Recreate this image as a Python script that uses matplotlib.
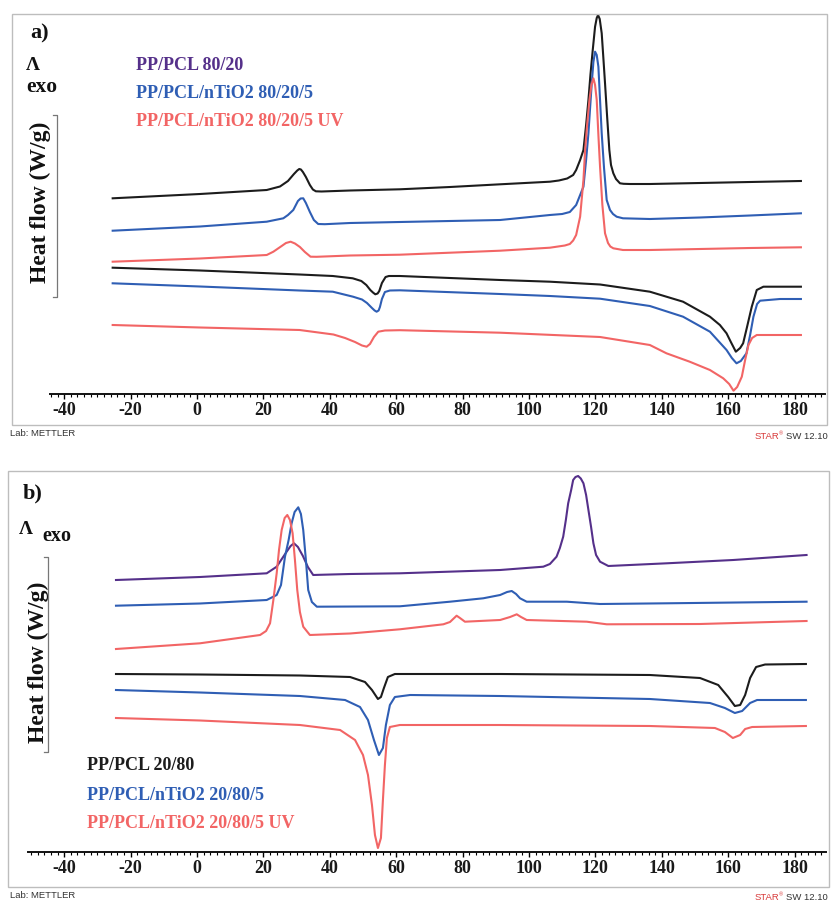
import matplotlib
matplotlib.use("Agg")
import matplotlib.pyplot as plt
from matplotlib.patches import Rectangle
from matplotlib.lines import Line2D
from matplotlib.ticker import MultipleLocator

# ---------------- data (temperature in degC, heat flow in arbitrary units above the axis) -------------
# Panel a) PP/PCL 80/20 series
a_cool_pp_T = [-25.4, 0.9, 21.0, 25.0, 27.4, 29.2, 30.2, 30.8, 31.3, 31.9, 32.8, 34.0, 34.9, 35.8, 37.5, 46.1,
               61.1, 76.2, 91.3, 106.3, 109.0, 111.5, 113.3, 114.2, 115.4, 116.4, 117.2, 117.9, 118.5, 119.2,
               119.9, 120.4, 120.8, 121.3, 121.9, 122.4, 122.9, 123.5, 124.2, 124.7, 125.4, 126.2, 127.4, 128.5,
               130.4, 136.4, 151.5, 166.6, 181.9]
a_cool_pp_HF = [195.7, 200, 204, 207.5, 213, 220, 223.5, 225, 224.5, 222, 217, 209, 204.5, 202.7, 202.5, 203.5,
                204.7, 207, 209.7, 212.3, 213.5, 215.5, 219, 224, 234, 244, 269, 294, 319, 344,
                367.3, 376, 379, 375, 360.7, 336, 310.7, 279, 244, 229, 220.7, 215, 210.7, 210.2,
                210, 210, 211, 212, 213]

a_cool_ti_T = [-25.4, 0.9, 21.0, 26.0, 27.4, 29.0, 30.4, 31.2, 32.0, 32.8, 34.0, 35.2, 36.5, 38.5, 46.1, 61.1,
               76.2, 91.3, 106.3, 110.0, 112.3, 114.2, 115.4, 116.4, 117.2, 117.9, 118.4, 118.9, 119.4, 119.9,
               120.4, 120.9, 121.4, 121.9, 122.6, 123.4, 124.4, 125.3, 126.4, 128.3, 136.4, 151.5, 166.6, 181.9]
a_cool_ti_HF = [163.3, 167.5, 172.3, 175.7, 179, 184, 193, 195.5, 195.7, 191, 182, 174, 170, 169.8, 171, 172,
                173, 174, 179, 180, 182, 189, 199, 207.3, 234, 260.7, 286, 310.7, 332, 342.3,
                339, 327.3, 294, 260.7, 226, 194, 184, 180, 177.3, 175.7, 175, 176.5, 178.5, 180.7]

a_cool_uv_T = [-25.4, 0.9, 21.0, 23.0, 25.5, 26.8, 28.2, 29.5, 31.0, 32.5, 34.2, 36.0, 46.1, 61.1, 76.2, 91.3,
               106.3, 110.8, 112.3, 113.3, 114.2, 115.4, 116.4, 116.9, 117.5, 118.2, 118.8, 119.4, 119.9, 120.4,
               120.9, 121.4, 122.1, 122.9, 123.8, 124.5, 125.4, 128.3, 136.4, 151.5, 166.6, 181.9]
a_cool_uv_HF = [132.3, 135.5, 139, 142.3, 148, 151, 152.3, 150.5, 147, 142, 137.3, 137.2, 138.5, 139.3, 141.3, 143.3,
                146.3, 148.5, 150, 153.5, 159, 177.3, 214, 244, 269, 294, 309, 315.7, 309, 294,
                259, 227.3, 189, 160.7, 151, 147.5, 145.7, 144, 144, 145, 146, 146.7]

a_heat_pp_T = [-25.4, 0.9, 30.9, 40.9, 46.9, 49.5, 51.0, 52.2, 53.0, 53.7, 54.4, 54.9, 55.7, 56.8, 57.8, 61.1,
               91.3, 106.3, 121.4, 136.4, 146.4, 154.5, 157.5, 159.5, 160.8, 162.3, 163.6, 164.5, 165.6, 167.1,
               168.6, 170.6, 175.6, 181.9]
a_heat_pp_HF = [126.3, 123.5, 119.5, 118, 115.7, 113, 109, 104, 101.5, 99.7, 100.5, 103, 111, 117, 118, 118,
                114, 112.3, 109.5, 102.3, 92.3, 77.3, 69, 60.7, 52, 42.3, 46, 50.7, 66, 87.3,
                104, 107.3, 107.3, 107.3]

a_heat_ti_T = [-25.4, 0.9, 30.9, 40.9, 47.0, 49.7, 51.2, 52.7, 53.5, 54.1, 54.7, 55.1, 55.7, 56.6, 58.1, 61.1,
               91.3, 106.3, 121.4, 136.4, 146.4, 154.5, 159.5, 161.1, 162.5, 163.8, 165.5, 166.6, 167.6, 168.7,
               169.6, 175.6, 181.9]
a_heat_ti_HF = [110.7, 107.5, 103.5, 102.3, 97.3, 94.5, 91, 86, 83.5, 82.3, 83.5, 87, 95, 102, 103.5, 103.7,
                100, 98, 95.3, 88, 77.3, 62.3, 44, 36, 30.7, 33, 40.7, 59, 77.3, 90,
                93.3, 95, 95]

a_heat_uv_T = [-25.4, 0.9, 30.9, 41.1, 44.6, 47.6, 49.7, 51.1, 52.1, 53.3, 54.6, 56.6, 61.1, 91.3, 121.4, 136.4,
               141.4, 148.4, 154.5, 158.5, 160.3, 161.6, 162.7, 164.1, 165.1, 166.1, 167.2, 168.6, 175.6, 181.9]
a_heat_uv_HF = [69, 66.5, 64, 59.5, 56, 52, 48.5, 47.3, 50, 57, 62.3, 63.5, 63.8, 61.3, 57, 49,
                40.7, 32.3, 24, 15.7, 10, 3.3, 7, 17.3, 34, 49, 56, 59, 59, 59]

# Panel b) PP/PCL 20/80 series
b_cool_pp_T = [-24.4, 0.9, 21.0, 24.0, 27.0, 28.2, 29.2, 30.4, 31.9, 33.4, 35.0, 37.0, 46.1, 61.1, 91.3, 104.3,
               106.3, 108.3, 109.3, 110.3, 111.1, 111.8, 112.7, 113.3, 114.0, 114.8, 115.6, 116.4, 117.2, 117.9,
               118.7, 119.4, 120.2, 121.4, 123.9, 141.5, 161.5, 183.6]
b_cool_pp_HF = [272, 275, 278.7, 285.3, 300.3, 306, 308.7, 305, 296, 285, 277, 277.2, 278, 278.7, 282, 285.3,
                288, 295.3, 304, 315.3, 332, 348.7, 362, 372, 375, 376, 373.5, 368.7, 357, 342,
                325, 308.7, 297, 290.3, 286, 288.7, 292, 297]

b_cool_ti_T = [-24.4, 0.9, 21.0, 24.0, 25.3, 26.5, 27.6, 28.5, 29.4, 30.5, 31.3, 32.0, 32.8, 33.5, 34.6, 36.1,
               61.1, 76.2, 86.2, 91.3, 93.4, 94.8, 96.1, 97.3, 99.3, 111.4, 121.4, 141.5, 183.6]
b_cool_ti_HF = [246.3, 248.5, 252, 257, 267, 295.3, 312, 328.7, 340, 344.7, 338, 322, 292, 262, 250, 245.3,
                245.7, 250.3, 253.7, 257, 260, 261, 258, 253.7, 250.3, 250.3, 248, 248.7, 250.3]

b_cool_uv_T = [-24.4, 0.9, 19.0, 20.8, 22.0, 23.0, 24.0, 24.7, 25.5, 26.4, 27.2, 28.0, 28.8, 29.5, 30.2, 31.0,
               32.0, 34.0, 46.1, 61.1, 74.2, 76.2, 78.2, 79.2, 80.7, 91.3, 94.3, 96.3, 97.6, 99.3,
               117.4, 123.4, 151.5, 183.6]
b_cool_uv_HF = [203, 208.7, 217, 221, 228.7, 252, 278.7, 302, 322, 334, 337, 332, 318.7, 292, 262, 240,
                225.3, 217, 218.5, 222.7, 227.7, 230, 236.3, 234, 230.3, 232, 235, 237.7, 235, 232,
                230.3, 227.7, 228, 231]

b_heat_pp_T = [-24.4, 0.9, 31.0, 46.1, 50.6, 52.7, 54.5, 55.4, 56.3, 57.5, 59.6, 91.3, 136.4, 151.5, 157.0, 160.0,
               162.0, 163.6, 165.1, 166.6, 168.4, 171.1, 183.4]
b_heat_pp_HF = [178, 177.5, 176.5, 175, 170, 162, 153, 155, 164, 175, 178, 178, 177, 174, 167, 155,
                146, 147, 157, 174, 185, 187.5, 188]

b_heat_ti_T = [-24.4, 0.9, 31.0, 44.6, 49.1, 51.5, 53.3, 54.8, 56.0, 56.9, 58.1, 59.6, 64.2, 91.3, 136.4, 154.5,
               159.0, 162.0, 164.2, 166.6, 168.7, 183.4]
b_heat_ti_HF = [162, 159.5, 156, 152, 145, 132, 112, 97, 104, 127, 147, 155, 157, 156, 153, 149,
                144, 139, 141, 149, 152, 152]

b_heat_uv_T = [-24.4, 0.9, 31.0, 43.1, 47.6, 50.0, 51.5, 52.7, 53.6, 54.5, 55.4, 56.0, 56.6, 57.2, 58.1, 61.1,
               91.3, 136.4, 156.0, 159.0, 161.4, 163.6, 165.1, 167.2, 183.4]
b_heat_uv_HF = [134, 131.5, 127, 122, 112, 97, 77, 47, 17, 4, 14, 52, 87, 114, 125, 127,
                127, 126, 124, 120, 114, 117, 123, 125, 126]

legend_a = ["PP/PCL 80/20", "PP/PCL/nTiO2 80/20/5", "PP/PCL/nTiO2 80/20/5 UV"]
legend_b = ["PP/PCL 20/80", "PP/PCL/nTiO2 20/80/5", "PP/PCL/nTiO2 20/80/5 UV"]
tick_values = [-40, -20, 0, 20, 40, 60, 80, 100, 120, 140, 160, 180]
tick_labels = ["-40", "-20", "0", "20", "40", "60", "80", "100", "120", "140", "160", "180"]

# ---------------- styling -----------------
BLACK = "#1c1c1c"
BLUE = "#2f5eb4"
RED = "#f26565"
PURPLE = "#55308a"
SERIF = "Liberation Serif"
SANS = "Liberation Sans"

W, H = 831, 901
fig = plt.figure(figsize=(W / 100, H / 100), dpi=100)


def fx(x):
    return x / W


def fy(y):
    return 1 - y / H


def make_axes(left, right, top, bottom, xlim):
    ax = fig.add_axes([fx(left), fy(bottom), (right - left) / W, (bottom - top) / H])
    ax.set_xlim(*xlim)
    ax.set_ylim(0, 380)
    ax.patch.set_visible(False)
    for s in ("top", "left", "right"):
        ax.spines[s].set_visible(False)
    ax.spines["bottom"].set_linewidth(1.4)
    ax.spines["bottom"].set_color("#111111")
    ax.set_yticks([])
    ax.set_xticks(tick_values)
    ax.set_xticklabels(tick_labels, fontfamily=SERIF, fontweight="bold", fontsize=13, color="#1a1a1a")
    ax.xaxis.set_minor_locator(MultipleLocator(2))
    ax.tick_params(axis="x", which="major", direction="out", length=3.5, width=1.0, pad=2)
    ax.tick_params(axis="x", which="minor", direction="out", length=2.5, width=0.8)
    return ax


def frame(x0, y0, x1, y1):
    fig.patches.append(Rectangle((fx(x0), fy(y1)), (x1 - x0) / W, (y1 - y0) / H,
                                 transform=fig.transFigure, fill=False, edgecolor="#bdbdbd", lw=1.0))


def bracket(x, y0, y1):
    fig.lines.append(Line2D([fx(x - 4), fx(x), fx(x), fx(x - 4)], [fy(y0), fy(y0), fy(y1), fy(y1)],
                            transform=fig.transFigure, color="#777777", lw=0.9))


def footer(y):
    fig.text(fx(10), fy(y), "Lab: METTLER", fontfamily=SANS, fontsize=6.8, color="#333333",
             ha="left", va="center")
    t = fig.text(fx(828), fy(y + 2), "SW 12.10", fontfamily=SANS, fontsize=6.8, color="#333333",
                 ha="right", va="center")
    fig.canvas.draw()
    r = fig.canvas.get_renderer()
    bb = t.get_window_extent(r)
    xr = bb.x0 / W
    t2 = fig.text(xr - 3 / W, fy(y - 0.5), "®", fontfamily=SANS, fontsize=4, color="#d83a3a",
                  ha="right", va="center")
    bb2 = t2.get_window_extent(r)
    fig.text(bb2.x0 / W, fy(y + 2), "STAR", fontfamily=SANS, fontsize=6.8, color="#d83a3a",
             ha="right", va="center")


# ---------------- panel a -----------------
frame(12, 14, 827, 425)
ax_a = make_axes(50, 825, 14, 394, ((50 - 197) / 3.32, (825 - 197) / 3.32))
lw = 1.5
ax_a.plot(a_cool_pp_T, a_cool_pp_HF, color=BLACK, lw=lw, clip_on=False)
ax_a.plot(a_cool_ti_T, a_cool_ti_HF, color=BLUE, lw=lw, clip_on=False)
ax_a.plot(a_cool_uv_T, a_cool_uv_HF, color=RED, lw=lw, clip_on=False)
ax_a.plot(a_heat_pp_T, a_heat_pp_HF, color=BLACK, lw=lw, clip_on=False)
ax_a.plot(a_heat_ti_T, a_heat_ti_HF, color=BLUE, lw=lw, clip_on=False)
ax_a.plot(a_heat_uv_T, a_heat_uv_HF, color=RED, lw=lw, clip_on=False)

fig.text(fx(40), fy(33), "a)", fontfamily=SERIF, fontweight="bold", fontsize=16, ha="center", va="center",
         color="#111111")
fig.text(fx(33), fy(66), "Λ", fontfamily=SERIF, fontweight="bold", fontsize=14, ha="center", va="center",
         color="#111111")
fig.text(fx(42), fy(87), "exo", fontfamily=SERIF, fontweight="bold", fontsize=15.5, ha="center", va="center",
         color="#111111")
fig.text(fx(40), fy(202), "Heat flow (W/g)", fontfamily=SERIF, fontweight="bold", fontsize=17, rotation=90,
         ha="center", va="center", color="#111111")
bracket(57, 115, 297)
for lab, col, y in zip(legend_a, [PURPLE, BLUE, RED], [65, 93, 121]):
    fig.text(fx(136), fy(y), lab, fontfamily=SERIF, fontweight="bold", fontsize=13, color=col,
             ha="left", va="center")

# ---------------- panel b -----------------
frame(8, 471, 829, 887)
ax_b = make_axes(28, 826, 472, 852, ((28 - 197) / 3.32, (826 - 197) / 3.32))
ax_b.plot(b_cool_pp_T, b_cool_pp_HF, color=PURPLE, lw=lw, clip_on=False)
ax_b.plot(b_cool_ti_T, b_cool_ti_HF, color=BLUE, lw=lw, clip_on=False)
ax_b.plot(b_cool_uv_T, b_cool_uv_HF, color=RED, lw=lw, clip_on=False)
ax_b.plot(b_heat_pp_T, b_heat_pp_HF, color=BLACK, lw=lw, clip_on=False)
ax_b.plot(b_heat_ti_T, b_heat_ti_HF, color=BLUE, lw=lw, clip_on=False)
ax_b.plot(b_heat_uv_T, b_heat_uv_HF, color=RED, lw=lw, clip_on=False)

fig.text(fx(33), fy(493), "b)", fontfamily=SERIF, fontweight="bold", fontsize=16, ha="center", va="center",
         color="#111111")
fig.text(fx(26), fy(530), "Λ", fontfamily=SERIF, fontweight="bold", fontsize=14, ha="center", va="center",
         color="#111111")
fig.text(fx(57), fy(536), "exo", fontfamily=SERIF, fontweight="bold", fontsize=14.5, ha="center", va="center",
         color="#111111")
fig.text(fx(38), fy(662), "Heat flow (W/g)", fontfamily=SERIF, fontweight="bold", fontsize=17, rotation=90,
         ha="center", va="center", color="#111111")
bracket(48, 557, 752)
for lab, col, y in zip(legend_b, [BLACK, BLUE, RED], [765, 795, 823]):
    fig.text(fx(87), fy(y), lab, fontfamily=SERIF, fontweight="bold", fontsize=13, color=col,
             ha="left", va="center")

footer(434)
footer(895)

fig.savefig("out.png", dpi=100)
